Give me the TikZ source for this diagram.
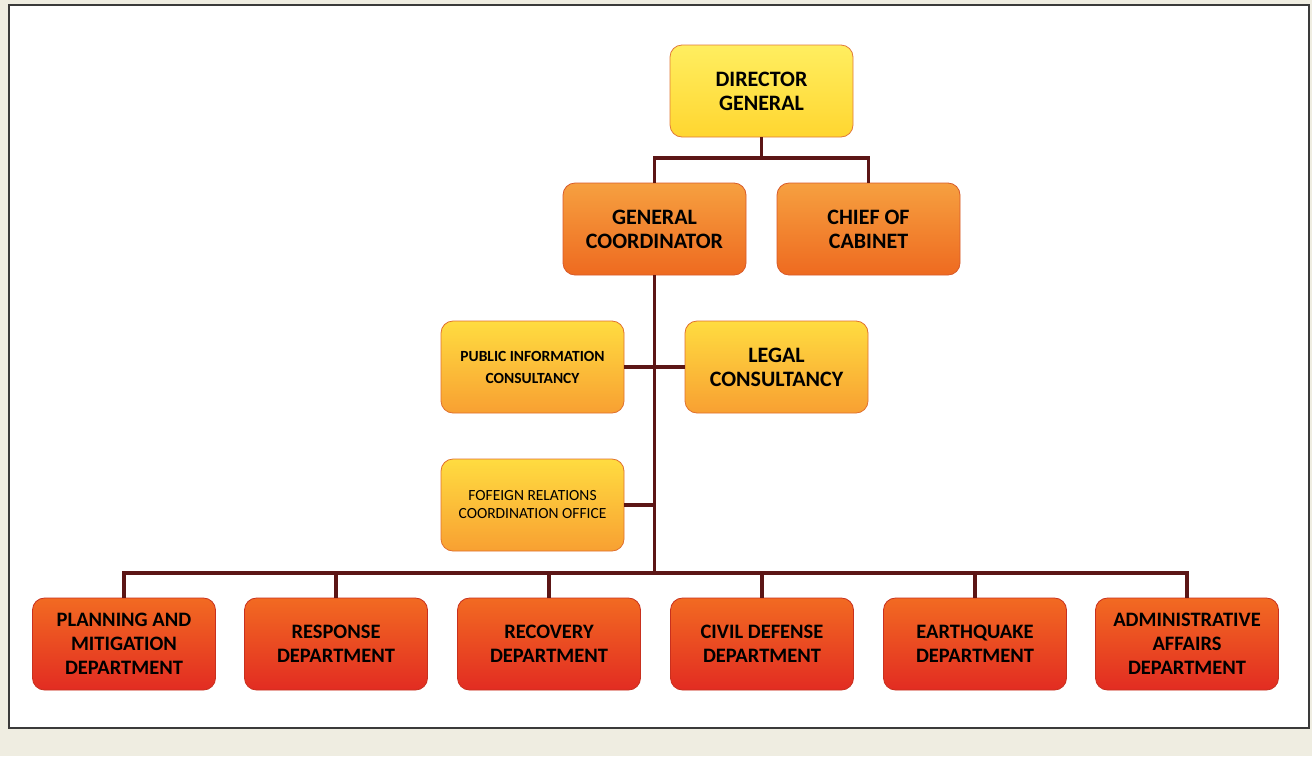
\documentclass[tikz,border=0pt]{standalone}
\usepackage{fontspec}
\setmainfont{Carlito}
\definecolor{bg}{HTML}{EFEDE1}
\definecolor{frame}{HTML}{3A3A3A}
\definecolor{conn}{HTML}{5C1616}
\definecolor{yTop}{HTML}{FFEE60}
\definecolor{yBot}{HTML}{FFD630}
\definecolor{yLine}{HTML}{E07A3A}
\definecolor{oTop}{HTML}{F6A040}
\definecolor{oBot}{HTML}{EE6A20}
\definecolor{oLine}{HTML}{D85A2A}
\definecolor{aTop}{HTML}{FFDC40}
\definecolor{aBot}{HTML}{F8A032}
\definecolor{aLine}{HTML}{E0702E}
\definecolor{rTop}{HTML}{F26A22}
\definecolor{rBot}{HTML}{E22C22}
\definecolor{rLine}{HTML}{C8301E}
\begin{document}
\begin{tikzpicture}[x=1pt,y=-1pt,
  box/.style={rounded corners=12pt, minimum width=183pt, minimum height=92pt,
    align=center, inner sep=2pt, line width=0.8pt, text=black},
  ybox/.style={box, draw=yLine, top color=yTop, bottom color=yBot},
  obox/.style={box, draw=oLine, top color=oTop, bottom color=oBot},
  abox/.style={box, draw=aLine, top color=aTop, bottom color=aBot},
  rbox/.style={box, draw=rLine, top color=rTop, bottom color=rBot},
  big/.style={font=\bfseries\fontsize{22}{24}\selectfont},
  dept/.style={font=\bfseries\fontsize{20.5}{24}\selectfont},
  small/.style={font=\bfseries\fontsize{15.5}{22}\selectfont},
  thin/.style={font=\fontsize{15.5}{18}\selectfont},
  link/.style={draw=conn, line width=3.5pt, line join=miter}
]
\useasboundingbox (0,0) rectangle (1312,756);
\fill[bg] (0,0) rectangle (1312,756);
\fill[white] (9,5) rectangle (1309,728);
\draw[frame, line width=1.2pt] (9,5) rectangle (1309,728);

% nodes
\node[ybox, big] (dg) at (761.5,91) {DIRECTOR\\GENERAL};
\node[obox, big] (gc) at (654.5,229) {GENERAL\\COORDINATOR};
\node[obox, big] (cc) at (868.5,229) {CHIEF OF\\CABINET};
\node[abox, small] (pic) at (532.5,367) {PUBLIC INFORMATION\\CONSULTANCY};
\node[abox, big] (lc) at (776.5,367) {LEGAL\\CONSULTANCY};
\node[abox, thin] (fr) at (532.5,505) {FOFEIGN RELATIONS\\COORDINATION OFFICE};

\node[rbox, dept] (d1) at (124,644) {PLANNING AND\\MITIGATION\\DEPARTMENT};
\node[rbox, dept] (d2) at (336,644) {RESPONSE\\DEPARTMENT};
\node[rbox, dept] (d3) at (549,644) {RECOVERY\\DEPARTMENT};
\node[rbox, dept] (d4) at (762,644) {CIVIL DEFENSE\\DEPARTMENT};
\node[rbox, dept] (d5) at (975,644) {EARTHQUAKE\\DEPARTMENT};
\node[rbox, dept] (d6) at (1187,644) {ADMINISTRATIVE\\AFFAIRS\\DEPARTMENT};

% junctions
\coordinate (j1) at (761.5,158);
\coordinate (bus) at (654.5,573);

% connectors
\draw[link] (dg.south) -- (j1);
\draw[link] (gc.north) |- (j1) -| (cc.north);
\draw[link] (gc.south) -- (bus);
\draw[link] (pic.east) -- (lc.west);
\draw[link] (fr.east) -- (fr.east -| bus);
\draw[link] (d1.north) -- (d1.north |- bus) -- (d6.north |- bus) -- (d6.north);
\foreach \d in {d2,d3,d4,d5} \draw[link] (\d.north) -- (\d.north |- bus);
\end{tikzpicture}
\end{document}
